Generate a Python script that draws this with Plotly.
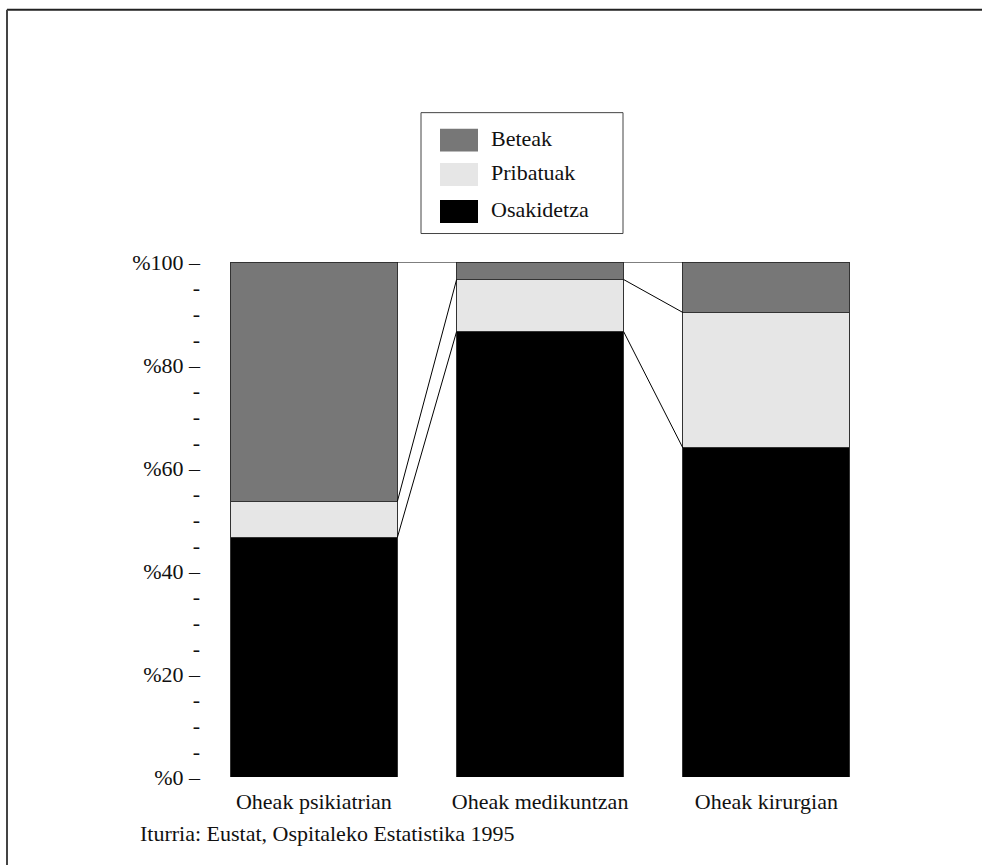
import plotly.graph_objects as go

# Hospital bed shares by type, 1995 (percent, stacked bottom to top)
categories = ["Oheak psikiatrian", "Oheak medikuntzan", "Oheak kirurgian"]
osakidetza = [46.5, 86.5, 63.9]
pribatuak = [7.0, 10.1, 26.3]
beteak = [46.5, 3.4, 9.8]

series_names = ["Osakidetza", "Pribatuak", "Beteak"]
series_colors = ["#000000", "#e6e6e6", "#777777"]
series_values = [osakidetza, pribatuak, beteak]

y_tick_vals = list(range(0, 101, 5))
y_tick_text = [f"%{v} –" if v % 20 == 0 else "-" for v in y_tick_vals]

source_text = "Iturria: Eustat, Ospitaleko Estatistika 1995"

FONT = "Liberation Serif"
FS = 22
W, H = 982, 865
L, R, T, B = 203, 98, 261.5, 88
PW, PH = W - L - R, H - T - B
BAR_W = 0.738


def xp(px):
    return (px - L) / PW


def yp(py):
    return (H - B - py) / PH


fig = go.Figure()

xs = list(range(len(categories)))
for name, color, vals in zip(series_names, series_colors, series_values):
    fig.add_trace(go.Bar(
        x=xs, y=vals, name=name, width=BAR_W,
        marker=dict(color=color, line=dict(color="#333333", width=1)),
        showlegend=False,
    ))

# connector lines between the segment boundaries of neighbouring bars
cum1 = osakidetza
cum2 = [a + b for a, b in zip(osakidetza, pribatuak)]
cum3 = [a + b + c for a, b, c in zip(osakidetza, pribatuak, beteak)]
for cum in (cum1, cum2, cum3):
    lx, ly = [], []
    for i in range(len(categories) - 1):
        lx += [i + BAR_W / 2, i + 1 - BAR_W / 2, None]
        ly += [cum[i], cum[i + 1], None]
    fig.add_trace(go.Scatter(
        x=lx, y=ly, mode="lines", line=dict(color="#000000", width=1),
        showlegend=False, hoverinfo="skip",
    ))

shapes = [
    # page frame (top and left rules)
    dict(type="line", xref="paper", yref="paper", x0=xp(7), x1=xp(982), y0=yp(9), y1=yp(9),
         line=dict(color="#222222", width=2)),
    dict(type="line", xref="paper", yref="paper", x0=xp(7), x1=xp(7), y0=yp(9), y1=yp(866),
         line=dict(color="#444444", width=2)),
    # legend box
    dict(type="rect", xref="paper", yref="paper", x0=xp(421), x1=xp(623), y0=yp(112), y1=yp(233),
         line=dict(color="#444444", width=1), fillcolor="white"),
]
annotations = []
legend_rows = [("Beteak", "#777777", 139.5), ("Pribatuak", "#e6e6e6", 174), ("Osakidetza", "#000000", 211)]
for name, color, cy in legend_rows:
    shapes.append(dict(type="rect", xref="paper", yref="paper",
                       x0=xp(440), x1=xp(478), y0=yp(cy - 11.5), y1=yp(cy + 11.5),
                       line=dict(width=0), fillcolor=color))
    annotations.append(dict(text=name, xref="paper", yref="paper", x=xp(489), y=yp(cy - 2),
                            xanchor="left", yanchor="middle", showarrow=False,
                            font=dict(family=FONT, size=FS, color="#111111")))

annotations.append(dict(text=source_text, xref="paper", yref="paper", x=xp(138), y=yp(834),
                        xanchor="left", yanchor="middle", showarrow=False,
                        font=dict(family=FONT, size=FS, color="#111111")))

fig.update_layout(
    width=W, height=H,
    margin=dict(l=L, r=R, t=T, b=B, pad=0),
    barmode="stack",
    paper_bgcolor="white", plot_bgcolor="white",
    font=dict(family=FONT, size=FS, color="#111111"),
    shapes=shapes, annotations=annotations,
    xaxis=dict(range=[-0.49, 2.52], tickvals=xs, ticktext=categories,
               showgrid=False, zeroline=False, showline=False, ticks="",
               ticklabelstandoff=9, tickfont=dict(size=FS)),
    yaxis=dict(range=[0, 100], tickvals=y_tick_vals, ticktext=y_tick_text,
               showgrid=False, zeroline=False, showline=False, ticks="",
               ticklabelstandoff=2, tickfont=dict(size=FS)),
)

fig.write_html("out.html")
